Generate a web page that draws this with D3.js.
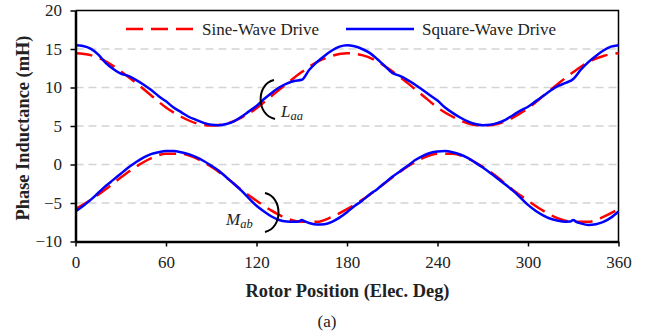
<!DOCTYPE html>
<meta charset="utf-8">
<script src="https://d3js.org/d3.v7.min.js"></script>
<style>
  body { margin: 0; background: #fff; }
  .axis path, .axis line { stroke: #000; }
  .grid line { stroke: #d4d4d4; stroke-width: 1.5; stroke-dasharray: 8,5; }
</style>
<body>
<script>

// angles (electrical degrees)
var angle10 = d3.range(0, 361, 10);
var angle5 = d3.range(0, 361, 5);
var angleMab = [0,5,10,15,20,25,30,35,40,45,50,55,60,65,70,75,80,85,90,95,100,105,110,115,120,125,130,135,140,145,148,150,152,155,160,165,170,175,
  180,185,190,195,200,205,210,215,220,225,230,235,240,245,250,255,260,265,270,275,280,285,290,295,300,305,310,315,320,325,328,330,332,335,340,345,350,355,360];

// self inductance Laa (mH)
var laaSine = [14.45,14.2,13.4,12.1,10.6,9.0,7.4,6.2,5.35,5.05,5.3,6.1,7.3,8.9,10.5,12.0,13.3,14.1,
  14.45,14.2,13.4,12.1,10.6,9.0,7.4,6.2,5.35,5.05,5.3,6.1,7.3,8.9,10.5,12.0,13.3,14.1,14.45];
var laaSquare = [15.5,15.4,15.05,14.3,13.2,12.4,11.8,11.5,11.0,10.4,9.7,8.9,8.2,7.4,6.8,6.2,5.8,5.4,5.15,5.1,5.25,5.6,6.2,6.9,7.6,8.5,9.3,10.0,10.5,10.85,11.0,12.3,13.3,14.1,14.8,15.3,
  15.5,15.35,15.0,14.5,13.7,12.8,11.9,11.5,11.0,10.4,9.7,9.0,8.3,7.4,6.7,6.1,5.6,5.25,5.1,5.15,5.4,5.8,6.4,7.0,7.5,8.2,8.9,9.6,10.2,10.6,11.1,12.3,13.3,14.1,14.8,15.3,15.5];

// mutual inductance Mab (mH)
var mabSine = [-5.8,-4.6,-3.2,-1.7,-0.3,0.8,1.4,1.4,0.8,-0.3,-1.7,-3.3,-4.7,-6.0,-7.0,-7.45,-7.45,-6.8,
  -5.8,-4.6,-3.2,-1.7,-0.3,0.8,1.4,1.4,0.8,-0.3,-1.7,-3.3,-4.7,-6.0,-7.0,-7.45,-7.45,-6.8,-5.8];
var mabSquare = [-6.1,-5.4,-4.6,-3.7,-2.8,-2.0,-1.2,-0.4,0.3,0.9,1.35,1.6,1.75,1.75,1.6,1.35,0.95,0.45,-0.15,-0.8,-1.65,-2.5,-3.4,-4.4,-5.35,-6.1,-6.75,-7.2,-7.4,-7.45,-7.4,-7.2,-7.4,-7.6,-7.8,-7.75,-7.45,-6.9,
  -6.2,-5.4,-4.7,-3.9,-3.2,-2.4,-1.6,-0.9,-0.2,0.55,1.1,1.5,1.7,1.75,1.6,1.3,0.85,0.25,-0.4,-1.1,-1.85,-2.6,-3.4,-4.3,-5.25,-6.0,-6.6,-7.05,-7.3,-7.42,-7.4,-7.2,-7.45,-7.65,-7.85,-7.75,-7.45,-6.9,-6.1];

var xTicks = [0, 60, 120, 180, 240, 300, 360];
var yTicks = [-10, -5, 0, 5, 10, 15, 20];
var gridValues = [-5, 0, 5, 10, 15];

var W = 652, H = 335;
var FONT = "'Liberation Serif', 'Times New Roman', serif";
var svg = d3.select("body").append("svg").attr("width", W).attr("height", H)
  .style("font-family", FONT);

var x = d3.scaleLinear().domain([0, 360]).range([75.5, 618.5]);
var y = d3.scaleLinear().domain([-10, 20]).range([241.5, 10.5]);

// grid
svg.append("g").attr("class", "grid")
  .selectAll("line").data(gridValues).enter().append("line")
    .attr("x1", x(0)).attr("x2", x(360))
    .attr("y1", function(d) { return y(d); })
    .attr("y2", function(d) { return y(d); });

// frame (top/right)
svg.append("path")
  .attr("d", "M" + x(0) + "," + y(20) + "H" + x(360) + "V" + y(-10))
  .attr("fill", "none").attr("stroke", "#000").attr("stroke-width", 1.5);

function pairs(a, v) { return a.map(function(t, i) { return [t, v[i]]; }); }

var line = d3.line()
  .x(function(d) { return x(d[0]); })
  .y(function(d) { return y(d[1]); })
  .curve(d3.curveMonotoneX);

var series = [
  {data: pairs(angle10, laaSine), color: "#ff0000", dash: "17,8"},
  {data: pairs(angle10, mabSine), color: "#ff0000", dash: "17,8"},
  {data: pairs(angle5, laaSquare), color: "#0000ff", dash: null},
  {data: pairs(angleMab, mabSquare), color: "#0000ff", dash: null}
];
svg.append("g").selectAll("path").data(series).enter().append("path")
  .attr("d", function(d) { return line(d.data); })
  .attr("fill", "none")
  .attr("stroke", function(d) { return d.color; })
  .attr("stroke-width", 2.5)
  .attr("stroke-dasharray", function(d) { return d.dash; });

// axes
function styleAxis(g) {
  g.select(".domain").attr("stroke-width", 2.5);
  g.selectAll("line").attr("stroke-width", 1.5);
  g.selectAll("text").style("font-family", FONT).style("font-size", "17px").attr("fill", "#222");
}
svg.append("g").attr("class", "axis")
  .attr("transform", "translate(0," + y(-10) + ")")
  .call(d3.axisBottom(x).tickValues(xTicks).tickSize(5).tickSizeOuter(0).tickPadding(9.5))
  .call(styleAxis);
svg.append("g").attr("class", "axis")
  .attr("transform", "translate(" + x(0) + ",0)")
  .call(d3.axisLeft(y).tickValues(yTicks).tickSize(5).tickSizeOuter(0).tickPadding(8.5))
  .call(styleAxis);

// titles
svg.append("text")
  .attr("transform", "translate(29,128) rotate(-90)")
  .attr("text-anchor", "middle")
  .style("font-weight", "bold").style("font-size", "18.4px").attr("fill", "#222")
  .text("Phase Inductance (mH)");
svg.append("text")
  .attr("x", 347.5).attr("y", 297).attr("text-anchor", "middle")
  .style("font-weight", "bold").style("font-size", "18.4px").attr("fill", "#222")
  .text("Rotor Position (Elec. Deg)");
svg.append("text")
  .attr("x", 327).attr("y", 327).attr("text-anchor", "middle")
  .style("font-size", "17px").attr("fill", "#222")
  .text("(a)");

// legend
var legend = [
  {label: "Sine-Wave Drive", color: "#ff0000", dash: "17,8", x: 126},
  {label: "Square-Wave Drive", color: "#0000ff", dash: null, x: 346}
];
var lg = svg.append("g").selectAll("g").data(legend).enter().append("g")
  .attr("transform", function(d) { return "translate(" + d.x + ",29)"; });
lg.append("line").attr("x1", 0).attr("x2", 68)
  .attr("stroke", function(d) { return d.color; })
  .attr("stroke-width", 2.5)
  .attr("stroke-dasharray", function(d) { return d.dash; });
lg.append("text").attr("x", 76).attr("y", 5.5)
  .style("font-size", "17px").attr("fill", "#222")
  .text(function(d) { return d.label; });

// annotations
svg.append("path").attr("d", "M274,80 C256,84 256,115 275,119")
  .attr("fill", "none").attr("stroke", "#000").attr("stroke-width", 2);
var laa = svg.append("text").attr("x", 281).attr("y", 117)
  .style("font-size", "17px").style("font-style", "italic").attr("fill", "#222");
laa.append("tspan").text("L");
laa.append("tspan").attr("dy", 3).style("font-size", "12.5px").text("aa");

svg.append("path").attr("d", "M265,193 C283,197 283,228 265,232")
  .attr("fill", "none").attr("stroke", "#000").attr("stroke-width", 2);
var mab = svg.append("text").attr("x", 226).attr("y", 225)
  .style("font-size", "17px").style("font-style", "italic").attr("fill", "#222");
mab.append("tspan").text("M");
mab.append("tspan").attr("dy", 3).style("font-size", "12.5px").text("ab");

</script>
</body>
